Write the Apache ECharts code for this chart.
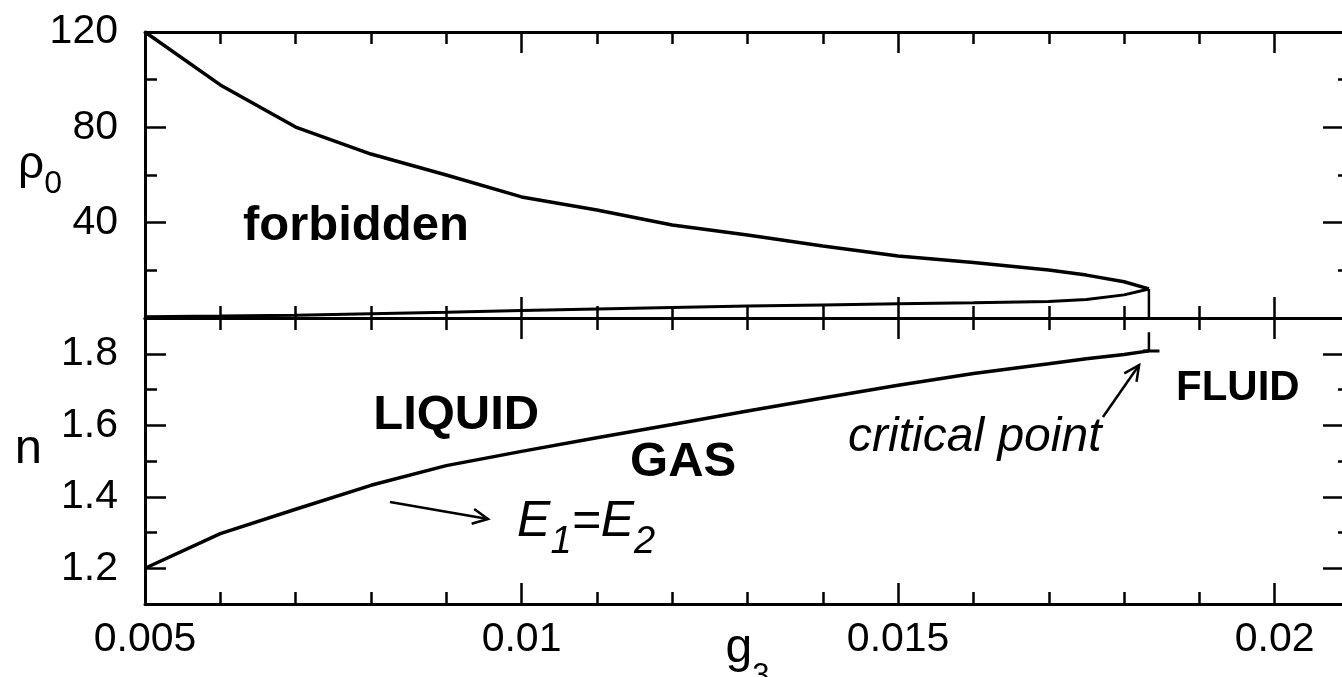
<!DOCTYPE html>
<html>
<head>
<meta charset="utf-8">
<script src="https://cdn.jsdelivr.net/npm/echarts@6/dist/echarts.min.js"></script>
<style>
  html, body { margin: 0; padding: 0; background: #fff; }
  #chart { width: 1342px; height: 677px; }
</style>
</head>
<body>
<div id="chart"></div>
<script>
// coupling g3 along the phase boundary
const g3 = [0.005, 0.006, 0.007, 0.008, 0.009, 0.010, 0.011, 0.012, 0.013, 0.014, 0.015, 0.016, 0.017, 0.0175, 0.018, 0.01833];
// upper and lower edge of the forbidden region in rho0
const rhoUpper = [120, 97.8, 80.1, 68.8, 60.0, 50.8, 45.3, 39.0, 34.8, 30.2, 26.0, 23.3, 20.1, 18.0, 15.2, 12.2];
const rhoLower = [0.5, 0.8, 1.2, 1.8, 2.4, 3.1, 3.8, 4.4, 5.0, 5.5, 6.0, 6.4, 6.9, 7.8, 9.7, 12.2];
// liquid-gas coexistence line E1 = E2
const nCoex = [1.200, 1.297, 1.365, 1.432, 1.487, 1.527, 1.565, 1.602, 1.640, 1.676, 1.712, 1.745, 1.772, 1.786, 1.798, 1.808];

// critical point
const gCrit = 0.01833;
const rhoCrit = 12.2;
const nCrit = 1.808;
const nCritTop = 1.86;
const gCritStub = [0.01825, 0.01847];

// axis ranges and ticks
const X_MIN = 0.005, X_MAX = 0.021;
const xMajor = [0.005, 0.01, 0.015, 0.02];
const xMinor = [0.006, 0.007, 0.008, 0.009, 0.011, 0.012, 0.013, 0.014, 0.016, 0.017, 0.018, 0.019];
const RHO_MIN = 0, RHO_MAX = 120;
const rhoMajor = [40, 80, 120];
const rhoMinor = [20, 60, 100];
const N_MIN = 1.1, N_MAX = 1.9;
const nMajor = [1.2, 1.4, 1.6, 1.8];
const nMinor = [1.3, 1.5, 1.7];

const FONT = '"Liberation Sans", Arial, Helvetica, sans-serif';
const INK = '#000';

function xAx(grid, pos, ticks, len, withLine, extra) {
  return Object.assign({
    type: 'value', gridIndex: grid, position: pos, min: X_MIN, max: X_MAX,
    splitLine: { show: false },
    axisLine: { show: withLine, onZero: false, lineStyle: { color: INK, width: 3 } },
    axisTick: { show: true, inside: true, length: len, customValues: ticks,
                lineStyle: { color: INK, width: 2.5 } },
    axisLabel: { show: false }
  }, extra || {});
}
function yAx(grid, pos, min, max, ticks, len, withLine, extra) {
  return Object.assign({
    type: 'value', gridIndex: grid, position: pos, min: min, max: max,
    splitLine: { show: false },
    axisLine: { show: withLine, onZero: false, lineStyle: { color: INK, width: 3 } },
    axisTick: { show: true, inside: true, length: len, customValues: ticks,
                lineStyle: { color: INK, width: 2.5 } },
    axisLabel: { show: false }
  }, extra || {});
}

const tickLabel = {
  show: true, color: INK, fontFamily: FONT, fontSize: 41,
  showMinLabel: true, showMaxLabel: true
};

// subscripted text: the main token hangs from the top of a tall line,
// the subscript token sits on its bottom, so lineHeight sets the drop
function subRich(mainSize, subSize, lineH, italic) {
  const st = italic ? 'italic' : 'normal';
  return {
    m: { fontSize: mainSize, fontStyle: st, fontFamily: FONT, color: INK, fill: INK, lineHeight: lineH, verticalAlign: 'top' },
    s: { fontSize: subSize, fontStyle: st, fontFamily: FONT, color: INK, fill: INK, lineHeight: subSize, verticalAlign: 'bottom' }
  };
}

const pairs = (xs, ys) => xs.map((x, i) => [x, ys[i]]);
const lineSeries = (data, xi, yi, width) => ({
  type: 'line', data: data, xAxisIndex: xi, yAxisIndex: yi,
  symbol: 'none', showSymbol: false, smooth: false, silent: true,
  lineStyle: { color: INK, width: width || 3.5 }, z: 5
});

const chart = echarts.init(document.getElementById('chart'), null, { renderer: 'canvas' });

const option = {
  backgroundColor: '#fff',
  animation: false,
  grid: [
    { left: 145, top: 32, width: 1205, height: 286, containLabel: false, outerBoundsMode: 'none' },
    { left: 145, top: 318, width: 1205, height: 286, containLabel: false, outerBoundsMode: 'none' }
  ],
  xAxis: [
    xAx(0, 'bottom', xMajor, 21, true),
    xAx(0, 'top', xMajor, 21, true),
    xAx(0, 'bottom', xMinor, 12, false),
    xAx(0, 'top', xMinor, 12, false),
    xAx(1, 'bottom', xMajor, 21, true, {
      axisLabel: Object.assign({}, tickLabel, { margin: 15, customValues: xMajor }),
      name: '{m|g}{s|3}', nameLocation: 'middle', nameGap: 21, nameMoveOverlap: false,
      nameTextStyle: { color: INK, fontFamily: FONT, rich: subRich(48, 31, 67, false) }
    }),
    xAx(1, 'top', xMajor, 21, true),
    xAx(1, 'bottom', xMinor, 12, false),
    xAx(1, 'top', xMinor, 12, false)
  ],
  yAxis: [
    yAx(0, 'left', RHO_MIN, RHO_MAX, rhoMajor, 21, true, {
      axisLabel: Object.assign({}, tickLabel, { margin: 27, customValues: rhoMajor }),
      name: '{m|ρ}{s|0}', nameLocation: 'middle', nameGap: 83, nameRotate: 0, nameMoveOverlap: false,
      nameTextStyle: { color: INK, fontFamily: FONT, padding: [0, 0, 8, 0], rich: subRich(46, 32, 58, false) }
    }),
    yAx(0, 'right', RHO_MIN, RHO_MAX, rhoMajor, 27, true),
    yAx(0, 'left', RHO_MIN, RHO_MAX, rhoMinor, 12, false),
    yAx(0, 'right', RHO_MIN, RHO_MAX, rhoMinor, 12, false),
    yAx(1, 'left', N_MIN, N_MAX, nMajor, 21, true, {
      axisLabel: Object.assign({}, tickLabel, { margin: 27, customValues: nMajor }),
      name: '{m|n}', nameLocation: 'middle', nameGap: 103, nameRotate: 0, nameMoveOverlap: false,
      nameTextStyle: { color: INK, fontFamily: FONT, rich: subRich(49, 30, 72, false) }
    }),
    yAx(1, 'right', N_MIN, N_MAX, nMajor, 27, true),
    yAx(1, 'left', N_MIN, N_MAX, nMinor, 12, false),
    yAx(1, 'right', N_MIN, N_MAX, nMinor, 12, false)
  ],
  series: [
    lineSeries(pairs(g3, rhoUpper), 0, 0),
    lineSeries(pairs(g3, rhoLower), 0, 0, 3),
    lineSeries([[gCrit, rhoCrit], [gCrit, RHO_MIN]], 0, 0, 2.5),
    lineSeries(pairs(g3, nCoex), 4, 4),
    lineSeries([[gCrit, nCrit], [gCrit, nCritTop]], 4, 4, 2.5),
    lineSeries([[gCritStub[0], nCrit], [gCritStub[1], nCrit]], 4, 4, 3)
  ]
};
chart.setOption(option);

// region labels and pointers, anchored in data space of each panel
const labels = [
  { series: 0, g: 0.0063, v: 38.2, text: 'forbidden', font: 'bold 49px ' + FONT },
  { series: 3, g: 0.00803, v: 1.628, text: 'LIQUID', font: 'bold 49px ' + FONT },
  { series: 3, g: 0.01144, v: 1.496, text: 'GAS', font: 'bold 49px ' + FONT },
  { series: 3, g: 0.01869, v: 1.704, text: 'FLUID', font: 'bold 42px ' + FONT },
  { series: 3, g: 0.014335, v: 1.5643, text: 'critical point', font: 'italic 48px ' + FONT }
];
const eqLabel = { series: 3, g: 0.00994, v: 1.324 };
const arrows = [
  { series: 3, from: [0.008253, 1.3853], to: [0.009554, 1.3378] },
  { series: 3, from: [0.01772, 1.623], to: [0.0182, 1.7685] }
];

function px(seriesIndex, g, v) {
  return chart.convertToPixel({ seriesIndex: seriesIndex }, [g, v]);
}

const graphics = [];
labels.forEach(function (l) {
  const p = px(l.series, l.g, l.v);
  graphics.push({
    type: 'text', x: p[0], y: p[1], silent: true, z: 10,
    style: { text: l.text, font: l.font, fill: INK,
             align: 'left', verticalAlign: 'middle', textAlign: 'left', textVerticalAlign: 'middle' }
  });
});

// E1=E2 with lowered subscripts; the box top is set so the main glyphs stay on the anchor
(function () {
  const p = px(eqLabel.series, eqLabel.g, eqLabel.v);
  graphics.push({
    type: 'text', x: p[0], y: p[1] - 27, silent: true, z: 10,
    style: {
      text: '{m|E}{s|1}{m|=E}{s|2}', fill: INK,
      align: 'left', verticalAlign: 'top', textAlign: 'left', textVerticalAlign: 'top',
      rich: subRich(50, 38, 65, true)
    }
  });
})();

arrows.forEach(function (a) {
  const p1 = px(a.series, a.from[0], a.from[1]);
  const p2 = px(a.series, a.to[0], a.to[1]);
  const dx = p2[0] - p1[0], dy = p2[1] - p1[1];
  const len = Math.sqrt(dx * dx + dy * dy);
  const ux = dx / len, uy = dy / len;
  const head = 17, ang = 26 * Math.PI / 180;
  const c = Math.cos(ang), s = Math.sin(ang);
  const h1 = [p2[0] - head * (ux * c - uy * s), p2[1] - head * (uy * c + ux * s)];
  const h2 = [p2[0] - head * (ux * c + uy * s), p2[1] - head * (uy * c - ux * s)];
  graphics.push({
    type: 'polyline', silent: true, z: 10,
    shape: { points: [p1, p2] },
    style: { stroke: INK, lineWidth: 2.5, fill: null }
  });
  graphics.push({
    type: 'polyline', silent: true, z: 10,
    shape: { points: [h1, p2, h2] },
    style: { stroke: INK, lineWidth: 2.5, fill: null, lineJoin: 'miter' }
  });
});

chart.setOption({ graphic: graphics });
</script>
</body>
</html>
